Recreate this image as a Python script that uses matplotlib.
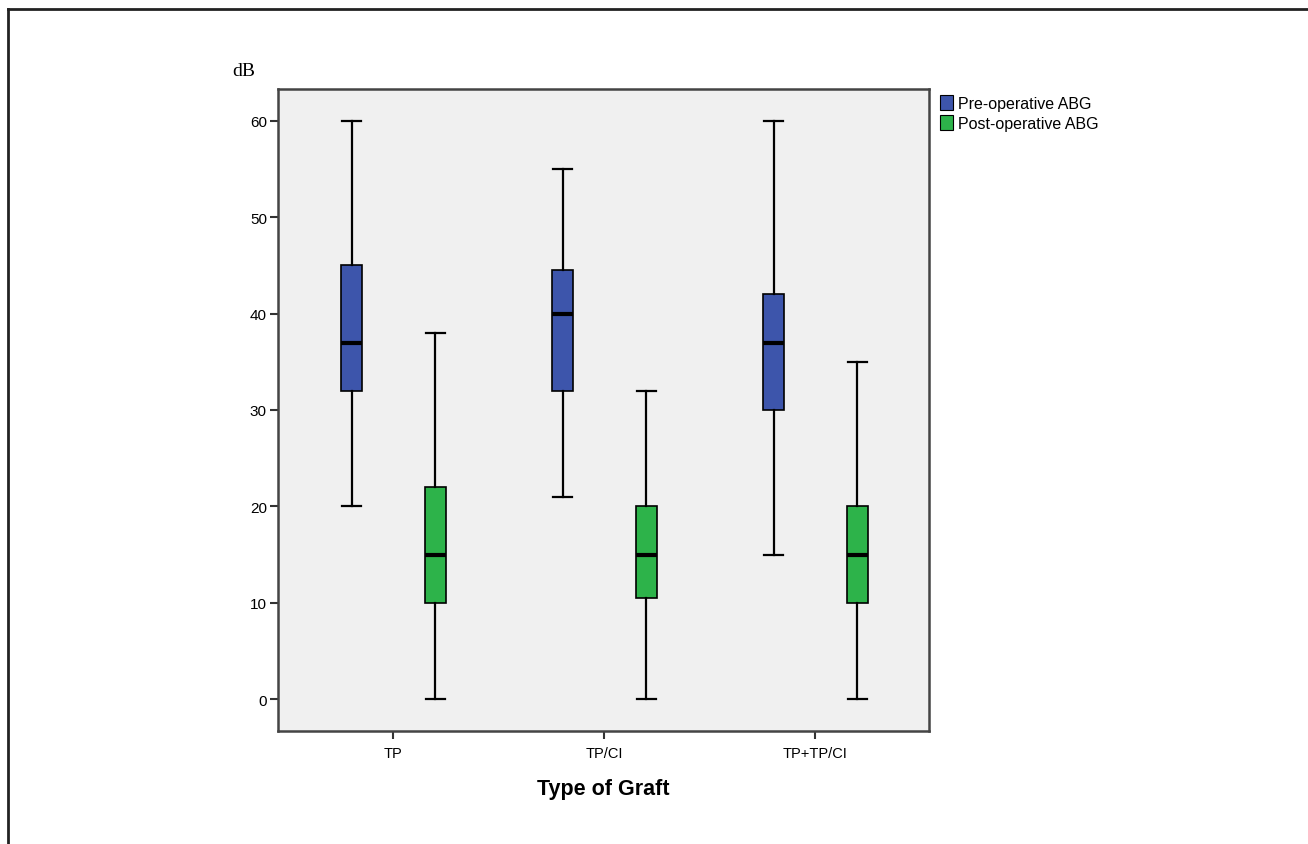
import numpy as np
import matplotlib
matplotlib.use('Agg')
from matplotlib import pyplot as plt
from matplotlib.patches import Patch
from matplotlib.lines import Line2D

# categories and box statistics
categories = ['TP', 'TP/CI', 'TP+TP/CI']
series = ['Pre-operative ABG', 'Post-operative ABG']
# whisker low, q1, median, q3, whisker high
pre_low = [20, 21, 15]
pre_q1 = [32, 32, 30]
pre_med = [37, 40, 37]
pre_q3 = [45, 44.5, 42]
pre_high = [60, 55, 60]
post_low = [0, 0, 0]
post_q1 = [10, 10.5, 10]
post_med = [15, 15, 15]
post_q3 = [22, 20, 20]
post_high = [38, 32, 35]
yticks = [0, 10, 20, 30, 40, 50, 60]

colors = ['#3d55ab', '#2db34a']

def make_stats(low, q1, med, q3, high):
    stats = []
    for ii in range(len(low)):
        stats.append(dict(whislo=low[ii], q1=q1[ii], med=med[ii], q3=q3[ii], whishi=high[ii], fliers=[]))
    return stats

fig = plt.figure(figsize=(13.08, 8.45), dpi=100)
# axes placed in pixels: left 278, right 929, top 90, bottom 732
ax = fig.add_axes([278/1308, 1-732/845, (929-278)/1308, (732-90)/845])
ax.set_facecolor('#f0f0f0')

pos = np.arange(len(categories))
groups = [make_stats(pre_low, pre_q1, pre_med, pre_q3, pre_high),
          make_stats(post_low, post_q1, post_med, post_q3, post_high)]
offsets = [-0.195, 0.2]
for gi, stats in enumerate(groups):
    ax.bxp(stats, positions=pos+offsets[gi], widths=0.1, patch_artist=True,
           showfliers=False, manage_ticks=False,
           boxprops=dict(facecolor=colors[gi], edgecolor='black', linewidth=1.2),
           medianprops=dict(color='black', linewidth=3),
           whiskerprops=dict(color='black', linewidth=1.6),
           capprops=dict(color='black', linewidth=1.6), capwidths=0.09)

ax.set_xlim(-0.545, 2.54)
ax.set_ylim(-3.3, 63.3)
ax.set_xticks(pos)
ax.set_xticklabels(categories, fontsize=10.5, family='Liberation Sans')
ax.set_yticks(yticks)
ax.set_yticklabels([str(v) for v in yticks], fontsize=11, family='Liberation Sans')
ax.tick_params(axis='both', direction='out', length=6, width=1.5, color='#333333', pad=2)
ax.tick_params(axis='x', pad=5)
for s in ax.spines.values():
    s.set_linewidth(1.8)
    s.set_color('#444444')

ax.set_xlabel('Type of Graft', fontsize=15.5, fontweight='bold', family='Liberation Sans', labelpad=13)
fig.text(232/1308, 1-72/845, 'dB', fontsize=14, family='Liberation Serif', va='center', ha='left')

handles = [Patch(facecolor=colors[i], edgecolor='black', linewidth=0.8) for i in range(2)]
ax.legend(handles, series, loc='upper left', bbox_to_anchor=(1.0, 1.008), frameon=False,
          prop={'family': 'Liberation Sans', 'size': 11.5},
          handlelength=0.8, handleheight=1.1, handletextpad=0.3, labelspacing=0.25, borderaxespad=0.3)

# outer frame lines (top and left only)
fig.add_artist(Line2D([8/1308, 8/1308], [0, 1-10/845], color='#222222', linewidth=2))
fig.add_artist(Line2D([8/1308, 1], [1-10/845, 1-10/845], color='#222222', linewidth=2))

plt.savefig('out.png', dpi=100)
